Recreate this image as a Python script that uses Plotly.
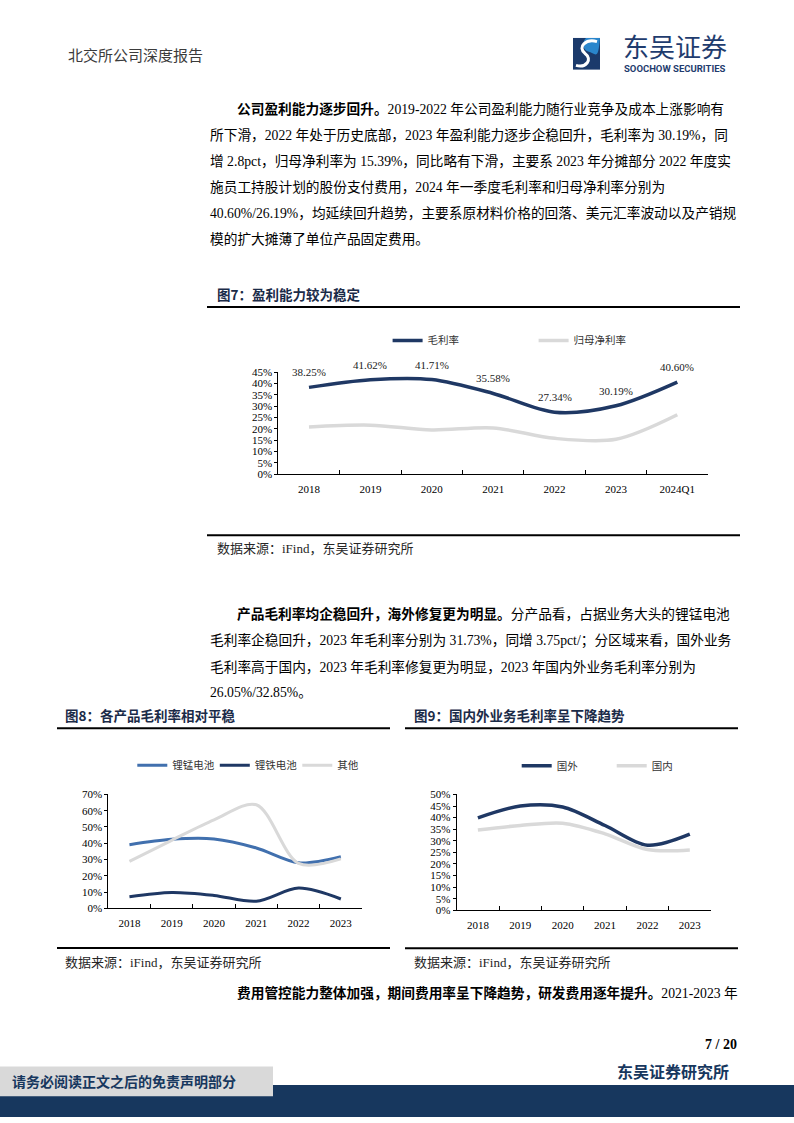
import plotly.graph_objects as go

W, H = 794, 1123
def px(x): return x / W
def py(y): return 1 - y / H

# ---------------- data ----------------
years7 = ['2018', '2019', '2020', '2021', '2022', '2023', '2024Q1']
gross7 = [38.25, 41.62, 41.71, 35.58, 27.34, 30.19, 40.60]
net7 = [20.8, 21.6, 19.5, 20.4, 15.8, 15.39, 26.19]
names7 = ['毛利率', '归母净利率']

years8 = ['2018', '2019', '2020', '2021', '2022', '2023']
limn8 = [39.1, 42.4, 42.6, 37.1, 27.98, 31.73]
life8 = [7.1, 9.7, 7.9, 4.3, 12.4, 5.7]
other8 = [28.8, 41.8, 54.4, 63.7, 27.6, 30.4]
names8 = ['锂锰电池', '锂铁电池', '其他']

years9 = ['2018', '2019', '2020', '2021', '2022', '2023']
overseas9 = [39.9, 45.0, 44.6, 36.6, 28.1, 32.85]
domestic9 = [34.7, 36.6, 37.6, 33.0, 26.2, 26.05]
names9 = ['国外', '国内']

# ---------------- styles ----------------
NAVY = '#1F3864'
MIDBLUE = '#4170AE'
GRAY = '#D9D9D9'
TITLE_C = '#1B2B48'
SERIF = 'Liberation Serif, Noto Sans CJK SC'
CJK = 'Noto Sans CJK SC'

fig = go.Figure()

def add_line(x, y, name, color, width, xa, ya, leg):
    fig.add_trace(go.Scatter(
        x=x, y=y, name=name, mode='lines',
        line=dict(color=color, width=width, shape='spline', smoothing=0.9),
        xaxis=xa, yaxis=ya, legend=leg, hoverinfo='skip'))

add_line(years7, gross7, names7[0], NAVY, 3.5, 'x', 'y', 'legend')
add_line(years7, net7, names7[1], GRAY, 3.5, 'x', 'y', 'legend')
add_line(years8, limn8, names8[0], MIDBLUE, 3, 'x2', 'y2', 'legend2')
add_line(years8, life8, names8[1], NAVY, 3, 'x2', 'y2', 'legend2')
add_line(years8, other8, names8[2], GRAY, 3, 'x2', 'y2', 'legend2')
add_line(years9, overseas9, names9[0], NAVY, 3.5, 'x3', 'y3', 'legend3')
add_line(years9, domestic9, names9[1], GRAY, 3.5, 'x3', 'y3', 'legend3')

def xaxis_cfg(x0, x1, anchor, n):
    return dict(domain=[px(x0), px(x1)], anchor=anchor, type='category',
                range=[-0.5, n - 0.5], showline=True, linecolor='black', linewidth=1,
                ticks='inside', ticklen=4, tickcolor='black', tickson='boundaries',
                showgrid=False, zeroline=False, fixedrange=True, ticklabelstandoff=5,
                tickfont=dict(family=SERIF, size=11, color='black'))

def yaxis_cfg(ybot, ytop, anchor, top, dt):
    return dict(domain=[py(ybot), py(ytop)], anchor=anchor, range=[0, top], dtick=dt,
                tick0=0, ticksuffix='%', showline=True, linecolor='black', linewidth=1,
                ticks='outside', ticklen=3, tickcolor='black',
                showgrid=False, zeroline=False, fixedrange=True,
                tickfont=dict(family=SERIF, size=11, color='black'))

legend_common = dict(orientation='h', xanchor='left', yanchor='middle',
                     bgcolor='rgba(0,0,0,0)', entrywidthmode='pixels',
                     font=dict(family=CJK, size=10.5, color='#333333'),
                     itemclick=False, itemdoubleclick=False)

fig.update_layout(
    width=W, height=H, margin=dict(l=0, r=0, t=0, b=0),
    paper_bgcolor='white', plot_bgcolor='rgba(0,0,0,0)',
    xaxis=xaxis_cfg(278.3, 708, 'y', len(years7)),
    yaxis=yaxis_cfg(473.3, 370, 'x', 45, 5),
    xaxis2=xaxis_cfg(108.3, 362, 'y2', len(years8)),
    yaxis2=yaxis_cfg(912, 797, 'x2', 70, 10),
    xaxis3=xaxis_cfg(456.7, 711, 'y3', len(years9)),
    yaxis3=yaxis_cfg(914, 797, 'x3', 50, 5),
    legend=dict(legend_common, x=px(387.6), y=py(338), entrywidth=101),
    legend2=dict(legend_common, x=px(132.3), y=py(767.5), entrywidth=37.5),
    legend3=dict(legend_common, x=px(516.7), y=py(768), entrywidth=50),
    showlegend=True,
)

# data labels for chart 1 (category index positions)
for i, yv in enumerate(gross7):
    fig.add_annotation(x=i, y=yv, xref='x', yref='y', yshift=15, showarrow=False,
                       text=f'{yv:.2f}%', font=dict(family=SERIF, size=11, color='#1a1a1a'))

shapes = []
def hline(x0, x1, y, w=2, color='black'):
    shapes.append(dict(type='line', xref='paper', yref='paper', x0=px(x0), x1=px(x1),
                       y0=py(y), y1=py(y), line=dict(color=color, width=w)))
def rect(x0, y0, x1, y1, color):
    shapes.append(dict(type='rect', xref='paper', yref='paper', x0=px(x0), x1=px(x1),
                       y0=py(y1), y1=py(y0), line=dict(width=0), fillcolor=color, layer='below'))

# title underlines and source lines
hline(207, 740, 304.3)
hline(207, 740, 535)
hline(57, 390, 730)
hline(57, 390, 952.3)
hline(405, 738, 730)
hline(405, 738, 952.5)

# footer
rect(0, 1090.6, 794, 1123, '#17375E')
rect(0, 1072, 273, 1102, '#D9D9D9')

# logo icon
rect(573, 32.3, 600, 64.3, '#1B3A6B')
def pth(pts):
    s = ''
    for cmd, coords in pts:
        s += cmd + ' ' + ' '.join(f'{px(a):.5f},{py(b):.5f}' for a, b in coords) + ' '
    return s.strip()
shapes.append(dict(type='path', xref='paper', yref='paper', layer='above',
                   path=pth([('M', [(586, 32.3)]), ('L', [(600, 32.3), (600, 64.3), (592, 64.3)]),
                             ('C', [(598, 56), (596, 48), (588, 46)]), ('C', [(582, 44), (582, 36), (586, 32.3)]), ('Z', [])]),
                   fillcolor='#2A86CC', line=dict(width=0)))
shapes.append(dict(type='path', xref='paper', yref='paper', layer='above',
                   path=pth([('M', [(597, 36)]), ('C', [(586, 33), (577, 41), (585, 48)]),
                             ('C', [(593, 54), (586, 63), (576, 60)])]),
                   line=dict(color='white', width=3)))
fig.update_layout(shapes=shapes)

def text(x, y, s, size, color='black', family=SERIF, xanchor='left'):
    fig.add_annotation(x=px(x), y=py(y), xref='paper', yref='paper', text=s, showarrow=False,
                       xanchor=xanchor, yanchor='middle', align='left',
                       font=dict(family=family, size=size, color=color))

# header
text(66, 49, '北交所公司深度报告', 15, '#3B3B3B', family=CJK)
text(621, 39.5, '东吴证券', 26, '#1F3C6E', family=CJK)
text(622, 63.5, '<b>SOOCHOW SECURITIES</b>', 9.5, '#1F3C6E', family='Roboto')

BODY = 13.7
# paragraph 1
p1 = [
    (235, '<b>公司盈利能力逐步回升。</b>2019-2022 年公司盈利能力随行业竞争及成本上涨影响有'),
    (208, '所下滑，2022 年处于历史底部，2023 年盈利能力逐步企稳回升，毛利率为 30.19%，同'),
    (208, '增 2.8pct，归母净利率为 15.39%，同比略有下滑，主要系 2023 年分摊部分 2022 年度实'),
    (208, '施员工持股计划的股份支付费用，2024 年一季度毛利率和归母净利率分别为'),
    (208, '40.60%/26.19%，均延续回升趋势，主要系原材料价格的回落、美元汇率波动以及产销规'),
    (208, '模的扩大摊薄了单位产品固定费用。'),
]
for i, (x0, s) in enumerate(p1):
    text(x0, 104 + 26.4 * i, s, BODY)

# chart 1 title and source
text(215, 291, '<b>图7：盈利能力较为稳定</b>', 13.5, TITLE_C, family=CJK)
text(215, 548.3, '数据来源：iFind，东吴证券研究所', 13, '#262626')

# paragraph 2
p2 = [
    (235, '<b>产品毛利率均企稳回升，海外修复更为明显。</b>分产品看，占据业务大头的锂锰电池'),
    (208, '毛利率企稳回升，2023 年毛利率分别为 31.73%，同增 3.75pct/；分区域来看，国外业务'),
    (208, '毛利率高于国内，2023 年毛利率修复更为明显，2023 年国内外业务毛利率分别为'),
    (208, '26.05%/32.85%。'),
]
for i, (x0, s) in enumerate(p2):
    text(x0, 615 + 26.4 * i, s, BODY)

# chart 2/3 titles and sources
text(63, 716.7, '<b>图8：各产品毛利率相对平稳</b>', 13.5, TITLE_C, family=CJK)
text(63, 967, '数据来源：iFind，东吴证券研究所', 13, '#262626')
text(412, 716.7, '<b>图9：国内外业务毛利率呈下降趋势</b>', 13.5, TITLE_C, family=CJK)
text(412, 967, '数据来源：iFind，东吴证券研究所', 13, '#262626')

# last line
text(235, 998, '<b>费用管控能力整体加强，期间费用率呈下降趋势，研发费用逐年提升。</b>2021-2023 年', BODY)

# footer texts
text(739, 1049.5, '<b>7 / 20</b>', 14, 'black', xanchor='right')
text(731, 1077, '<b>东吴证券研究所</b>', 16, '#17375E', family=CJK, xanchor='right')
text(10, 1087, '<b>请务必阅读正文之后的免责声明部分</b>', 14, '#17375E', family=CJK)

fig.write_html('out.html')
